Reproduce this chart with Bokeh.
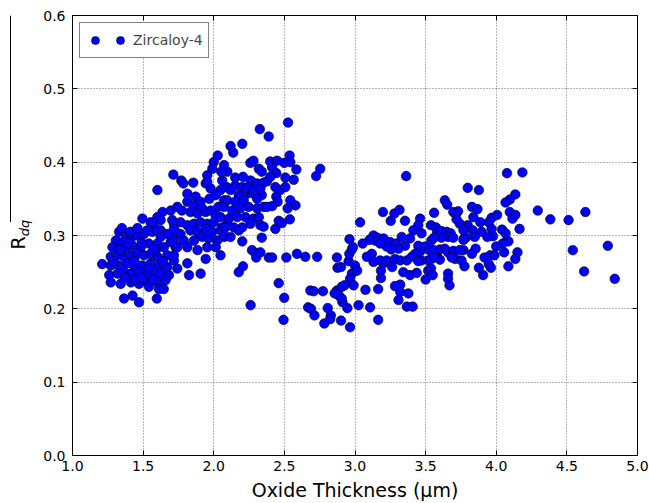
import numpy as np
from bokeh.plotting import figure
from bokeh.layouts import row
from bokeh.models import (Range1d, FixedTicker, LinearAxis, Legend, LegendItem,
                          NumeralTickFormatter, CustomJSTickFormatter, ColumnDataSource)
from bokeh.core.properties import value
from bokeh.embed import file_html
from bokeh.resources import INLINE

# Zircaloy-4 roughness parameter R_dq against oxide thickness (um)

# thin oxide, dense cluster
thickness_thin = [1.21,
    1.365, 1.425, 1.471, 1.597,
    1.495, 1.553, 1.601, 1.637, 1.695, 1.706, 1.742,
    1.33, 1.377, 1.307, 1.354, 1.413, 1.459, 1.506, 1.565, 1.624, 1.671, 1.73, 1.695,
    1.283, 1.33, 1.377, 1.425, 1.483, 1.541, 1.601, 1.647, 1.73,
    1.271, 1.319, 1.365, 1.413, 1.459, 1.506, 1.553, 1.601, 1.671, 1.718,
    1.271, 1.33, 1.389, 1.436, 1.495, 1.553, 1.612, 1.671, 1.742,
    1.26, 1.319, 1.365, 1.413, 1.471, 1.53, 1.577, 1.624, 1.683,
    1.271, 1.341, 1.413, 1.471, 1.53, 1.601, 1.659, 1.541, 1.612, 1.646,
    1.29, 1.34, 1.39, 1.44, 1.49, 1.54, 1.59, 1.64, 1.44, 1.37, 1.49, 1.57, 1.41, 1.46, 1.35]
rdq_thin = [0.261,
    0.214, 0.218, 0.209, 0.214,
    0.323, 0.318, 0.325, 0.332, 0.334, 0.321, 0.339,
    0.305, 0.302, 0.293, 0.291, 0.296, 0.300, 0.302, 0.305, 0.307, 0.302, 0.305, 0.291,
    0.284, 0.282, 0.284, 0.286, 0.284, 0.289, 0.289, 0.284, 0.284,
    0.271, 0.273, 0.271, 0.273, 0.275, 0.273, 0.275, 0.271, 0.273, 0.266,
    0.259, 0.259, 0.262, 0.259, 0.259, 0.262, 0.259, 0.257, 0.255,
    0.246, 0.248, 0.250, 0.248, 0.250, 0.248, 0.250, 0.248, 0.246,
    0.236, 0.234, 0.236, 0.234, 0.236, 0.236, 0.239, 0.230, 0.227, 0.227,
    0.265, 0.28, 0.29, 0.265, 0.29, 0.255, 0.28, 0.265, 0.24, 0.243, 0.242, 0.24, 0.305, 0.31, 0.31]

# 1.5 - 2.1 um
thickness_rise = [1.943, 1.978, 2.048, 2.091, 2.014, 1.969, 2.073, 2.033,
    1.714, 1.77, 1.785, 1.855, 1.601, 1.813, 1.872, 1.813, 1.86, 1.907, 1.919,
    1.775, 1.835, 1.885, 1.943, 1.978, 2.014,
    1.577, 1.624, 1.718, 1.765, 1.813, 1.86, 1.907, 1.954, 2.001, 2.06, 2.096,
    1.53, 1.601, 1.624, 1.718, 1.765, 1.835, 1.885, 1.943, 1.99, 2.048, 2.073, 1.718, 1.788, 1.86, 1.919, 1.964, 2.024,
    1.577, 1.742, 1.813, 1.885, 1.954, 2.014, 2.048, 1.943, 1.813, 1.718, 1.907, 1.825]
rdq_rise = [0.371, 0.364, 0.362, 0.366, 0.355, 0.350, 0.348, 0.339,
    0.383, 0.375, 0.371, 0.372, 0.362, 0.357, 0.353, 0.346, 0.341, 0.346, 0.337,
    0.334, 0.332, 0.330, 0.332, 0.334, 0.327,
    0.318, 0.321, 0.316, 0.318, 0.314, 0.316, 0.318, 0.316, 0.318, 0.311, 0.316,
    0.307, 0.307, 0.298, 0.309, 0.302, 0.307, 0.305, 0.309, 0.305, 0.307, 0.298, 0.293, 0.293, 0.293, 0.298, 0.296, 0.293,
    0.282, 0.284, 0.284, 0.280, 0.284, 0.284, 0.273, 0.268, 0.262, 0.273, 0.248, 0.246]

# 2.0 - 2.8 um, peak roughness and drop at transition
thickness_peak = [2.073, 2.096, 2.06, 2.271, 2.152, 2.202, 2.119, 2.177, 2.236, 2.281, 2.096, 2.152, 2.212, 2.073,
    2.13, 2.189, 2.247, 2.307, 2.048, 2.107, 2.166, 2.224, 2.281, 2.083, 2.142, 2.202, 2.259, 2.073, 2.119, 2.177,
    2.319, 2.34, 2.353, 2.307, 2.33,
    2.526, 2.326, 2.389, 2.119, 2.138, 2.202, 2.028, 2.0, 1.99, 2.053, 1.954, 1.954,
    2.259, 2.281, 2.319, 2.34, 2.4, 2.448, 2.413, 2.443, 2.499, 2.537, 2.542, 2.585, 2.507, 2.566, 2.377, 2.4,
    2.152, 2.207, 2.259, 2.307, 2.353, 2.436, 2.47, 2.507, 2.236, 2.281, 2.33, 2.443, 2.452, 2.413, 2.377,
    2.542, 2.579, 2.523, 2.539, 2.46, 2.436, 2.483,
    2.353, 2.34, 2.271, 2.295, 2.207, 2.177, 2.202,
    2.301, 2.33, 2.39, 2.413, 2.514, 2.589, 2.648, 2.732,
    2.754, 2.725,
    2.46, 2.499, 2.684, 2.708, 2.773,
    2.668, 2.688, 2.713, 2.807, 2.829, 2.824, 2.783,
    2.494, 2.261]
rdq_peak = [0.396, 0.387, 0.375, 0.373, 0.368, 0.366, 0.362, 0.355, 0.357, 0.357, 0.348, 0.346, 0.348, 0.339,
    0.334, 0.337, 0.339, 0.337, 0.325, 0.323, 0.325, 0.325, 0.323, 0.311, 0.311, 0.311, 0.316, 0.300, 0.298, 0.307,
    0.325, 0.355, 0.339, 0.350, 0.314,
    0.454, 0.445, 0.435, 0.422, 0.413, 0.425, 0.409, 0.400, 0.391, 0.387, 0.382, 0.373,
    0.399, 0.402, 0.391, 0.387, 0.401, 0.402, 0.393, 0.385, 0.399, 0.409, 0.400, 0.390, 0.379, 0.376, 0.374, 0.380,
    0.379, 0.380, 0.375, 0.371, 0.372, 0.366, 0.362, 0.366, 0.365, 0.362, 0.364, 0.353, 0.346, 0.340, 0.339,
    0.348, 0.341, 0.337, 0.322, 0.320, 0.309, 0.317,
    0.312, 0.297, 0.280, 0.276, 0.258, 0.250, 0.292,
    0.270, 0.277, 0.270, 0.270, 0.270, 0.275, 0.271, 0.271,
    0.391, 0.381,
    0.235, 0.215, 0.225, 0.224, 0.224,
    0.202, 0.200, 0.191, 0.201, 0.191, 0.186, 0.180,
    0.185, 0.205]

# 2.85 - 3.6 um, after transition
thickness_post = [2.872, 2.876, 2.901, 2.955, 2.96, 3.0, 2.978, 2.965, 3.015,
    2.872, 2.906, 2.926, 2.886, 2.911, 2.856,
    2.901, 2.965, 2.946, 3.025,
    2.961, 2.978, 2.906, 3.362, 3.32,
    3.198, 3.279, 3.315, 3.036, 3.253, 3.354, 3.461, 3.448, 3.413, 3.471, 3.54,
    3.131, 3.159, 3.202, 3.143, 3.249, 3.291, 3.331, 3.39, 3.354, 3.308, 3.257, 3.224, 3.179, 3.102, 3.054,
    3.448, 3.496, 3.526, 3.461, 3.426, 3.402, 3.543, 3.578, 3.518, 3.471, 3.448,
    2.985, 3.119, 3.084, 3.131, 3.178, 3.202, 3.224, 3.283, 3.32, 3.367, 3.263, 3.184, 3.184, 3.342, 3.39, 3.437, 3.5, 3.518,
    3.283, 3.32, 3.308, 3.378, 3.367, 3.408, 3.164, 3.074, 2.99, 3.107, 3.164]
rdq_post = [0.270, 0.256, 0.257, 0.265, 0.275, 0.259, 0.248, 0.241, 0.252,
    0.225, 0.230, 0.232, 0.218, 0.209, 0.221,
    0.184, 0.175, 0.201, 0.205,
    0.295, 0.281, 0.214, 0.381, 0.233,
    0.332, 0.330, 0.335, 0.318, 0.320, 0.320, 0.323, 0.314, 0.307, 0.303, 0.293,
    0.300, 0.297, 0.296, 0.293, 0.291, 0.289, 0.298, 0.296, 0.286, 0.282, 0.281, 0.285, 0.289, 0.294, 0.289,
    0.286, 0.285, 0.280, 0.278, 0.275, 0.271, 0.268, 0.273, 0.266, 0.266, 0.265,
    0.284, 0.275, 0.271, 0.264, 0.266, 0.262, 0.266, 0.268, 0.266, 0.266, 0.257, 0.252, 0.242, 0.250, 0.246, 0.249, 0.240, 0.252,
    0.231, 0.223, 0.212, 0.221, 0.203, 0.203, 0.227, 0.226, 0.232, 0.202, 0.185]

# thickest oxide, 3.5 - 4.9 um
thickness_thick = [4.076, 4.185, 3.798, 3.877, 4.135, 4.096, 4.066, 4.294, 4.631, 4.383,
    4.512, 4.096, 4.135, 4.115, 4.165, 4.542, 4.79, 4.622, 4.839,
    4.15, 4.135, 4.086, 3.907, 3.877, 4.076, 4.086, 4.046, 4.056, 4.0,
    4.041, 4.066, 3.967, 4.006, 3.947, 3.967, 3.977, 3.937,
    3.917, 3.957, 3.987, 3.947, 3.962, 3.828, 3.867, 3.838, 3.798, 3.887,
    3.833, 3.897, 3.773, 3.848, 3.854, 3.768, 3.828, 3.775,
    3.636, 3.653, 3.56, 3.696, 3.73, 3.715, 3.719, 3.742, 3.538, 3.573,
    3.582, 3.612, 3.649, 3.677, 3.659, 3.696, 3.612, 3.56, 3.768, 3.785, 3.768,
    3.558, 3.601, 3.636, 3.659, 3.696, 3.742, 3.709, 3.754, 3.601, 3.56, 3.684,
    3.659, 3.659, 3.669, 3.538, 3.55]
rdq_thick = [0.385, 0.386, 0.365, 0.362, 0.356, 0.349, 0.345, 0.334, 0.332, 0.322,
    0.321, 0.332, 0.328, 0.323, 0.309, 0.280, 0.286, 0.251, 0.241,
    0.277, 0.268, 0.258, 0.246, 0.256, 0.293, 0.292, 0.289, 0.277, 0.285,
    0.308, 0.303, 0.324, 0.328, 0.318, 0.309, 0.299, 0.298,
    0.270, 0.273, 0.273, 0.261, 0.256, 0.339, 0.336, 0.325, 0.314, 0.318,
    0.307, 0.305, 0.296, 0.298, 0.282, 0.280, 0.275, 0.258,
    0.348, 0.342, 0.331, 0.332, 0.333, 0.330, 0.322, 0.316, 0.314, 0.311,
    0.305, 0.306, 0.305, 0.303, 0.298, 0.297, 0.297, 0.297, 0.307, 0.297, 0.294,
    0.280, 0.281, 0.282, 0.277, 0.279, 0.280, 0.268, 0.266, 0.267, 0.271, 0.270,
    0.248, 0.241, 0.232, 0.255, 0.246]

x_ticks = [1.0, 1.5, 2.0, 2.5, 3.0, 3.5, 4.0, 4.5, 5.0]
y_ticks = [0.0, 0.1, 0.2, 0.3, 0.4, 0.5, 0.6]
series_label = "Zircaloy-4"

FONT = "DejaVu Sans"
W, H = 649, 503
STRIP_W = 40          # narrow strip on the left that carries the y title

source = ColumnDataSource(data=dict(
    x=thickness_thin + thickness_rise + thickness_peak + thickness_post + thickness_thick,
    y=rdq_thin + rdq_rise + rdq_peak + rdq_post + rdq_thick,
))

p = figure(width=W - STRIP_W, height=H, x_range=Range1d(1.0, 5.0), y_range=Range1d(0.0, 0.6),
           output_backend="svg", toolbar_location=None,
           min_border_left=72 - STRIP_W, min_border_right=12, min_border_top=15, min_border_bottom=48)
p.background_fill_color = "white"
p.border_fill_color = "white"
p.outline_line_color = "black"
p.outline_line_width = 1
p.outline_line_alpha = 1

xt = FixedTicker(ticks=x_ticks)
yt = FixedTicker(ticks=y_ticks)

for ax, tk in ((p.xaxis[0], xt), (p.yaxis[0], yt)):
    ax.ticker = tk
    ax.formatter = NumeralTickFormatter(format="0.0")
    ax.major_tick_in = 5
    ax.major_tick_out = 0
    ax.minor_tick_line_color = None
    ax.axis_line_color = "black"
    ax.major_tick_line_color = "black"
    ax.major_label_text_font = FONT
    ax.major_label_text_font_size = "14px"
    ax.major_label_text_color = "black"

p.xaxis.major_label_standoff = 5
p.yaxis.major_label_standoff = 7
p.xaxis.axis_label = "Oxide Thickness (\u03bcm)"
p.xaxis.axis_label_text_font = FONT
p.xaxis.axis_label_text_font_size = "19px"
p.xaxis.axis_label_text_font_style = "normal"
p.xaxis.axis_label_text_color = "black"
p.xaxis.axis_label_standoff = 5

blank = CustomJSTickFormatter(code="return ''")
p.add_layout(LinearAxis(ticker=xt, formatter=blank, major_tick_in=5, major_tick_out=0,
                        minor_tick_line_color=None, major_label_standoff=0), "above")
p.add_layout(LinearAxis(ticker=yt, formatter=blank, major_tick_in=5, major_tick_out=0,
                        minor_tick_line_color=None, major_label_standoff=0), "right")

p.xgrid.ticker = xt
p.ygrid.ticker = yt
for g in (p.xgrid, p.ygrid):
    g.grid_line_color = "black"
    g.grid_line_alpha = 0.55
    g.grid_line_width = 1
    g.grid_line_dash = "1 2"

r = p.scatter("x", "y", source=source, size=9.6, marker="circle",
              fill_color="#0000ff", line_color="black", line_width=0.6)

legend = Legend(items=[LegendItem(label="", renderers=[r]),
                       LegendItem(label=series_label, renderers=[r])],
                orientation="horizontal", location="top_left", margin=7,
                padding=5, spacing=2, glyph_width=20, glyph_height=24,
                label_standoff=3, label_width=0,
                label_text_font=FONT, label_text_font_size="14px",
                border_line_color="black", border_line_width=1,
                background_fill_color="white", background_fill_alpha=1)
p.add_layout(legend)

# left strip: rotated y title "R" with subscript "dq", in pixel coordinates of the strip
s = figure(width=STRIP_W, height=H, x_range=Range1d(0, STRIP_W), y_range=Range1d(0, H),
           output_backend="svg", toolbar_location=None, x_axis_type=None, y_axis_type=None,
           min_border=0)
s.outline_line_color = None
s.xgrid.visible = False
s.ygrid.visible = False
s.background_fill_color = "white"
s.border_fill_color = "white"
s.text(x=[17], y=[H - 260], text=["R"], angle=np.pi / 2, text_align="center",
       text_baseline="middle", text_font=value(FONT), text_font_size="19px", text_color="black")
s.text(x=[23.5], y=[H - 243], text=["dq"], angle=np.pi / 2, text_align="center",
       text_baseline="middle", text_font=value(FONT), text_font_size="13px",
       text_font_style="italic", text_color="black")
s.segment(x0=[10], y0=[H], x1=[10], y1=[H - 236], line_color="black", line_width=1)

layout = row(s, p, spacing=0)
open("out.html", "w").write(file_html(layout, INLINE))
